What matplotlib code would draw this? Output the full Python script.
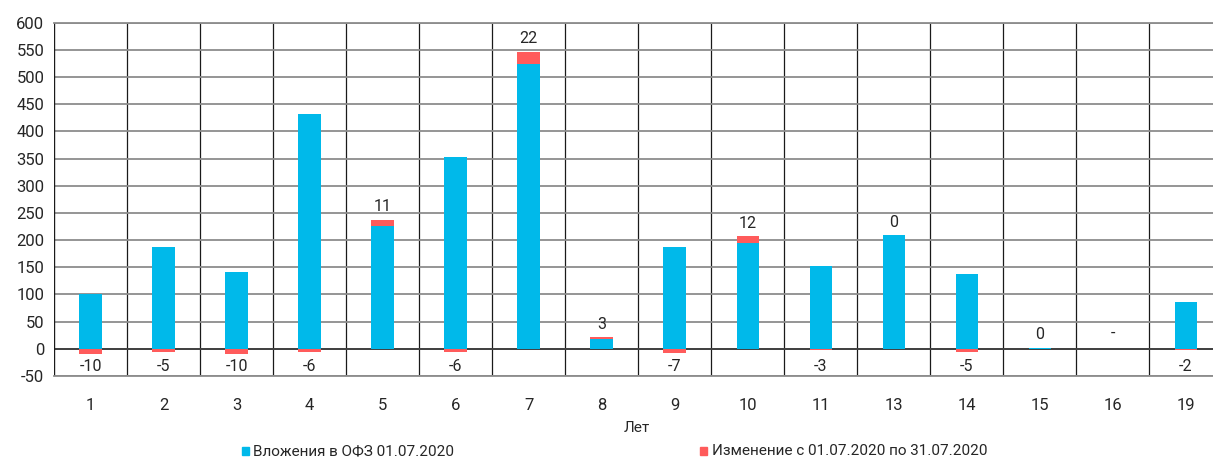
import matplotlib
matplotlib.use("Agg")
import matplotlib.pyplot as plt
from matplotlib import font_manager

names = {f.name for f in font_manager.fontManager.ttflist}
fam = [f for f in ["Roboto", "Liberation Sans", "DejaVu Sans"] if f in names]
plt.rcParams['font.family'] = fam

categories = ["1", "2", "3", "4", "5", "6", "7", "8", "9", "10", "11", "13", "14", "15", "16", "19"]
holdings = [100, 187, 141, 432, 226, 353, 524, 18, 187, 195, 153, 209, 137, 2, 0, 87]
changes = [-10, -5, -10, -6, 11, -6, 22, 3, -7, 12, -3, 0, -5, 0, None, -2]
change_labels = ["-10", "-5", "-10", "-6", "11", "-6", "22", "3", "-7", "12", "-3", "0", "-5", "0", "-", "-2"]
yticks = [-50, 0, 50, 100, 150, 200, 250, 300, 350, 400, 450, 500, 550, 600]

blue = "#00B9EA"
red = "#FF5B5B"
txt = "#262626"

fig = plt.figure(figsize=(12.13, 4.57), dpi=100)
ax = fig.add_axes([54.2 / 1213, 1 - 376 / 457, (1222.4 - 54.2) / 1213, (376 - 22.7) / 457])

x = list(range(len(categories)))
w = 0.31
ax.bar(x, holdings, width=w, color=blue, linewidth=0, zorder=3)
for i, (h, c) in enumerate(zip(holdings, changes)):
    if c is None or c == 0:
        continue
    if c > 0:
        ax.bar(i, c, width=w, bottom=h, color=red, linewidth=0, zorder=3)
    else:
        ax.bar(i, c, width=w, color=red, linewidth=0, zorder=3)

for i, (h, c, lab) in enumerate(zip(holdings, changes, change_labels)):
    if c is None:
        ax.annotate(lab, (i, h), xytext=(0, 6), textcoords="offset points",
                    ha="center", va="bottom", fontsize=11.5, color=txt)
    elif c >= 0:
        ax.annotate(lab, (i, h + c), xytext=(0, 4), textcoords="offset points",
                    ha="center", va="bottom", fontsize=11.5, color=txt)
    else:
        ax.text(i, -32, lab, ha="center", va="center", fontsize=11.5, color=txt)

ax.set_xlim(-0.5, len(categories) - 0.5)
ax.set_ylim(-50, 600)
ax.set_yticks(yticks)
ax.set_yticklabels([str(v) for v in yticks])
ax.set_xticks(x)
ax.set_xticklabels(categories)
ax.set_xticks([i + 0.5 for i in x], minor=True)

ax.grid(axis="y", which="major", color="#8C8C8C", linewidth=1.3, zorder=1)
ax.grid(axis="x", which="minor", color="#1A1A1A", linewidth=0.9, zorder=1)
ax.axhline(0, color="#333333", linewidth=1.2, zorder=2)
ax.axvline(-0.5, color="#1A1A1A", linewidth=1.0, zorder=2)
for s in ["right", "left"]:
    ax.spines[s].set_visible(False)
for s in ["top", "bottom"]:
    ax.spines[s].set_color("#8C8C8C")
    ax.spines[s].set_linewidth(1.3)

ax.tick_params(axis="both", which="both", length=0, labelsize=12, colors=txt)
ax.tick_params(axis="x", pad=16)
ax.tick_params(axis="y", pad=7)

fig.text(637 / 1213, 1 - 428 / 457, "Лет", ha="center", va="center", fontsize=11, color=txt)

fig.text(253 / 1213, 1 - 451 / 457, "Вложения в ОФЗ 01.07.2020", ha="left", va="center", fontsize=11, color=txt)
fig.text(712 / 1213, 1 - 451 / 457, "Изменение с 01.07.2020 по 31.07.2020", ha="left", va="center", fontsize=11, color=txt)
fig.patches.append(plt.Rectangle((242 / 1213, 1 - 455 / 457), 7 / 1213, 8 / 457, color=blue, transform=fig.transFigure, figure=fig))
fig.patches.append(plt.Rectangle((700 / 1213, 1 - 455 / 457), 7 / 1213, 8 / 457, color=red, transform=fig.transFigure, figure=fig))

fig.savefig("out.png", dpi=100)
